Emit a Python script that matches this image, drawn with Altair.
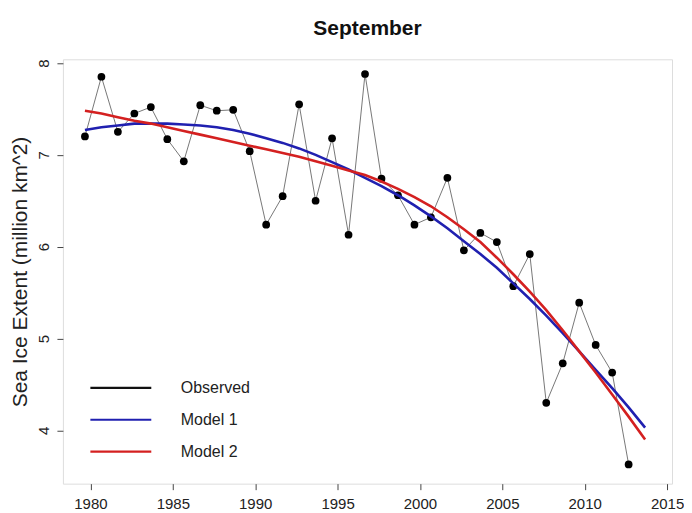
import altair as alt
import pandas as pd

# Observed September sea ice extent (million km^2)
years = list(range(1979, 2013))
observed = [7.20, 7.85, 7.25, 7.45, 7.52, 7.17, 6.93, 7.54, 7.48, 7.49,
            7.04, 6.24, 6.55, 7.55, 6.50, 7.18, 6.13, 7.88, 6.74, 6.56,
            6.24, 6.32, 6.75, 5.96, 6.15, 6.05, 5.57, 5.92, 4.30, 4.73,
            5.39, 4.93, 4.63, 3.63]

# Model curves, yearly 1979..2013
model_years = list(range(1979, 2014))
model1 = [7.27, 7.30, 7.32, 7.34, 7.34, 7.34, 7.33, 7.32, 7.30, 7.27,
          7.23, 7.18, 7.13, 7.07, 7.00, 6.92, 6.84, 6.75, 6.66, 6.56,
          6.45, 6.33, 6.20, 6.06, 5.92, 5.77, 5.60, 5.43, 5.25, 5.06,
          4.86, 4.66, 4.46, 4.25, 4.03]
model2 = [7.48, 7.45, 7.41, 7.37, 7.34, 7.30, 7.26, 7.22, 7.18, 7.14,
          7.10, 7.06, 7.02, 6.98, 6.93, 6.88, 6.83, 6.78, 6.71, 6.63,
          6.54, 6.44, 6.32, 6.19, 6.05, 5.88, 5.70, 5.51, 5.31, 5.09,
          4.86, 4.63, 4.39, 4.15, 3.90]

series_names = ["Observed", "Model 1", "Model 2"]
series_colors = ["#111111", "#2020b0", "#d42020"]
x_ticks = [1980, 1985, 1990, 1995, 2000, 2005, 2010, 2015]
y_ticks = [4, 5, 6, 7, 8]
sept = 8 / 12  # September position within the year

obs_df = pd.DataFrame({"t": [y + sept for y in years], "v": observed})
mod_df = pd.concat([
    pd.DataFrame({"t": [y + sept for y in model_years], "v": model1, "s": "Model 1"}),
    pd.DataFrame({"t": [y + sept for y in model_years], "v": model2, "s": "Model 2"}),
])

xs = alt.Scale(domain=[1978.33, 2015.3], nice=False, zero=False)
ys = alt.Scale(domain=[3.42, 8.04], nice=False, zero=False)

x_axis = alt.Axis(values=x_ticks, title=None, format="d", domain=False,
                  grid=False, tickSize=6, tickColor="#444", labelFontSize=15,
                  labelPadding=7, labelColor="#222", labelFont="Liberation Sans")
y_axis = alt.Axis(values=y_ticks, format="d", title="Sea Ice Extent (million km^2)",
                  domain=False, grid=False, tickSize=6, tickColor="#444",
                  labelFontSize=15, labelAngle=270, labelAlign="center",
                  labelBaseline="alphabetic", labelPadding=8, labelColor="#222",
                  labelFont="Liberation Sans", titleFont="Liberation Sans",
                  titleFontSize=21, titleFontWeight="normal", titleColor="#222",
                  titlePadding=6)

base_x = alt.X("t:Q", scale=xs, axis=x_axis)
base_y = alt.Y("v:Q", scale=ys, axis=y_axis)

obs_line = alt.Chart(obs_df).mark_line(color="#555", strokeWidth=0.8).encode(x=base_x, y=base_y)
obs_pts = alt.Chart(obs_df).mark_circle(color="#000", opacity=1, size=60).encode(x="t:Q", y="v:Q")

model_lines = alt.Chart(mod_df).mark_line(strokeWidth=2.6).encode(
    x="t:Q", y="v:Q",
    color=alt.Color("s:N",
                    scale=alt.Scale(domain=series_names, range=series_colors),
                    legend=alt.Legend(title=None, orient="none", legendX=26, legendY=313,
                                      symbolType="stroke", symbolSize=3721,
                                      symbolStrokeWidth=2.2, labelFontSize=16,
                                      labelFont="Liberation Sans", labelColor="#222",
                                      labelOffset=28, rowPadding=0, clipHeight=32,
                                      padding=0)),
    order=alt.Order("s:N"),
)

chart = alt.layer(obs_line, obs_pts, model_lines).properties(
    width=610, height=425,
    title=alt.TitleParams("September", fontSize=21, fontWeight="bold",
                          font="Liberation Sans", color="#111", anchor="middle",
                          offset=20),
    autosize=alt.AutoSizeParams(type="none"),
    padding={"left": 55, "top": 51, "right": 12, "bottom": 30},
).configure_view(stroke="#444", strokeWidth=1.5).configure(background="white")

chart.save("out.html", embed_options={"renderer": "svg", "actions": False})
